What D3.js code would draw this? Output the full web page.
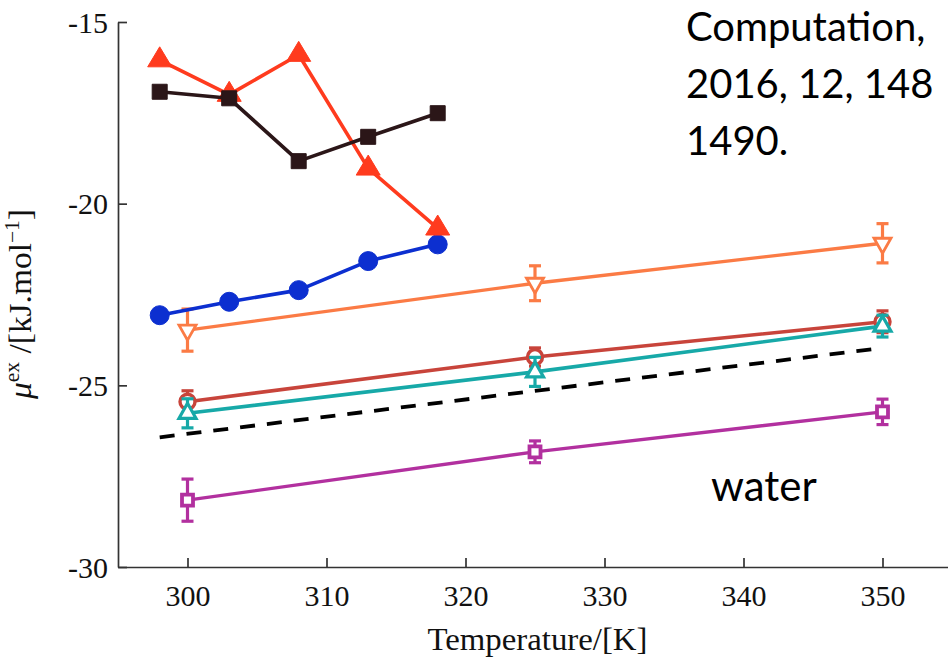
<!DOCTYPE html>
<html>
<head>
<meta charset="utf-8">
<script src="https://cdn.jsdelivr.net/npm/d3@7"></script>
<style>
  html, body { margin: 0; padding: 0; background: #fff; overflow: hidden; }
  svg { display: block; }
</style>
</head>
<body>
<svg id="chart" width="948" height="657"></svg>
<script>
// Temperatures for the two sampling grids
const tempsFine = [298, 303, 308, 313, 318];
const tempsCoarse = [300, 325, 350];
const tempsRef = [298, 350];

// Excess chemical potential (kJ/mol), fine grid
const triRed = [-16.05, -17.0, -15.9, -19.03, -20.68];
const sqDark = [-16.92, -17.1, -18.83, -18.16, -17.51];
const circBlue = [-23.07, -22.7, -22.38, -21.58, -21.12];

// Coarse grid with error bars
const downOrange = [-23.48, -22.19, -21.09];
const downOrangeErr = [0.58, 0.48, 0.54];
const circRed = [-25.45, -24.22, -23.25];
const circRedErr = [0.3, 0.25, 0.3];
const triTeal = [-25.77, -24.63, -23.37];
const triTealErr = [0.4, 0.4, 0.3];
const sqMagenta = [-28.16, -26.83, -25.73];
const sqMagentaErr = [0.58, 0.3, 0.35];

// Reference (dashed) line
const refLine = [-26.43, -23.97];

// Axis ticks
const xTicks = [300, 310, 320, 330, 340, 350];
const yTicks = [-30, -25, -20, -15];

// Annotation lines
const noteLines = ["Computation,", "2016, 12, 148", "1490."];
const waterLabel = "water";

const svg = d3.select("#chart");
const x = d3.scaleLinear().domain([295, 355]).range([118, 952]);
const y = d3.scaleLinear().domain([-30, -15]).range([567, 22]);

const axisColor = "#333";

// Axes
const xAxis = svg.append("g").attr("transform", `translate(0,${y(-30)})`)
  .call(d3.axisBottom(x).tickValues(xTicks).tickSizeInner(-9).tickSizeOuter(0).tickPadding(18).tickFormat(d3.format("d")));
const yAxis = svg.append("g").attr("transform", `translate(${x(295)},0)`)
  .call(d3.axisLeft(y).tickValues(yTicks).tickSizeInner(-9).tickSizeOuter(0).tickPadding(10).tickFormat(d => String(d)));

[xAxis, yAxis].forEach(g => {
  g.select(".domain").attr("stroke", axisColor).attr("stroke-width", 1.7);
  g.selectAll(".tick line").attr("stroke", axisColor).attr("stroke-width", 1.7);
  g.selectAll(".tick text")
    .attr("fill", "#111")
    .attr("font-family", "'Liberation Serif', 'Times New Roman', serif")
    .attr("font-size", 30);
});
yAxis.selectAll(".tick text").attr("dy", "0.34em");
xAxis.selectAll(".tick text").attr("dy", "0.71em");

// Axis titles
svg.append("text")
  .attr("x", 537.5).attr("y", 650)
  .attr("text-anchor", "middle")
  .attr("font-family", "'Liberation Serif', 'Times New Roman', serif")
  .attr("font-size", 31)
  .attr("fill", "#111")
  .attr("textLength", 220).attr("lengthAdjust", "spacingAndGlyphs")
  .text("Temperature/[K]");

const yl = svg.append("g").attr("transform", "translate(31,304) rotate(-90)");
const ylText = yl.append("text")
  .attr("text-anchor", "middle")
  .attr("font-family", "'Liberation Serif', 'Times New Roman', serif")
  .attr("font-size", 31)
  .attr("fill", "#111");
ylText.append("tspan").attr("font-style", "italic").text("μ");
ylText.append("tspan").attr("font-size", 20).attr("dy", -12).text("ex");
ylText.append("tspan").attr("dy", 12).text(" /[kJ.mol");
ylText.append("tspan").attr("font-size", 20).attr("dy", -12).text("−1");
ylText.append("tspan").attr("dy", 12).text("]");
ylText.attr("textLength", 190).attr("lengthAdjust", "spacingAndGlyphs");

// Marker shapes (size in px)
function triUp(w, h) {
  return `M0,${-h * 2 / 3}L${w / 2},${h / 3}L${-w / 2},${h / 3}Z`;
}
function triDown(w, h) {
  return `M0,${h * 2 / 3}L${w / 2},${-h / 3}L${-w / 2},${-h / 3}Z`;
}
function square(s) {
  return `M${-s / 2},${-s / 2}H${s / 2}V${s / 2}H${-s / 2}Z`;
}
function circle(r) {
  return `M${r},0A${r},${r} 0 1,1 ${-r},0A${r},${r} 0 1,1 ${r},0Z`;
}

const line = d3.line().x(d => x(d[0])).y(d => y(d[1]));

function drawSeries(temps, vals, errs, opts) {
  const g = svg.append("g");
  const pts = temps.map((t, i) => [t, vals[i], errs ? errs[i] : 0]);
  g.append("path").datum(pts).attr("d", line)
    .attr("fill", "none").attr("stroke", opts.color)
    .attr("stroke-width", opts.lw).attr("stroke-linejoin", "round");
  if (errs) {
    const eb = g.selectAll(".eb").data(pts).join("g");
    eb.append("line")
      .attr("x1", d => x(d[0])).attr("x2", d => x(d[0]))
      .attr("y1", d => y(d[1] - d[2])).attr("y2", d => y(d[1] + d[2]))
      .attr("stroke", opts.color).attr("stroke-width", 3.2);
    [-1, 1].forEach(s => {
      eb.append("line")
        .attr("x1", d => x(d[0]) - 6).attr("x2", d => x(d[0]) + 6)
        .attr("y1", d => y(d[1] + s * d[2])).attr("y2", d => y(d[1] + s * d[2]))
        .attr("stroke", opts.color).attr("stroke-width", 3.2);
    });
  }
  g.selectAll(".mk").data(pts).join("path")
    .attr("transform", d => `translate(${x(d[0])},${y(d[1])})`)
    .attr("d", opts.shape)
    .attr("fill", opts.hollow ? "#fff" : opts.color)
    .attr("stroke", opts.color)
    .attr("stroke-width", opts.hollow ? opts.msw : 1)
    .attr("stroke-linejoin", "miter");
}

// Reference line
svg.append("path").datum(tempsRef.map((t, i) => [t, refLine[i]]))
  .attr("d", line).attr("fill", "none").attr("stroke", "#000")
  .attr("stroke-width", 3.8).attr("stroke-dasharray", "15,12");

drawSeries(tempsCoarse, sqMagenta, sqMagentaErr, { color: "#b2309f", lw: 3.4, shape: square(11), hollow: true, msw: 3.8 });
drawSeries(tempsCoarse, downOrange, downOrangeErr, { color: "#fb7b45", lw: 3.4, shape: triDown(17, 15), hollow: true, msw: 2.8 });
drawSeries(tempsCoarse, circRed, circRedErr, { color: "#c8443b", lw: 3.6, shape: circle(7.5), hollow: true, msw: 3.4 });
drawSeries(tempsCoarse, triTeal, triTealErr, { color: "#17a9a8", lw: 3.6, shape: triUp(17, 15), hollow: true, msw: 3.2 });

drawSeries(tempsFine, circBlue, null, { color: "#0c2fd0", lw: 3.6, shape: circle(9.5), hollow: false });
drawSeries(tempsFine, triRed, null, { color: "#ff3b1e", lw: 3.6, shape: triUp(24, 20), hollow: false });
drawSeries(tempsFine, sqDark, null, { color: "#2b1618", lw: 3.6, shape: square(15), hollow: false });

// Annotation text, one element per line
noteLines.forEach((t, i) => {
  svg.append("text")
    .attr("x", 686).attr("y", 41 + i * 57)
    .attr("font-family", "Lato, 'Open Sans', sans-serif")
    .attr("font-size", 40)
    .attr("fill", "#000")
    .text(t);
});
svg.append("text")
  .attr("x", 711).attr("y", 501)
  .attr("font-family", "Lato, 'Open Sans', sans-serif")
  .attr("font-size", 42)
  .attr("fill", "#000")
  .text(waterLabel);
</script>
</body>
</html>
